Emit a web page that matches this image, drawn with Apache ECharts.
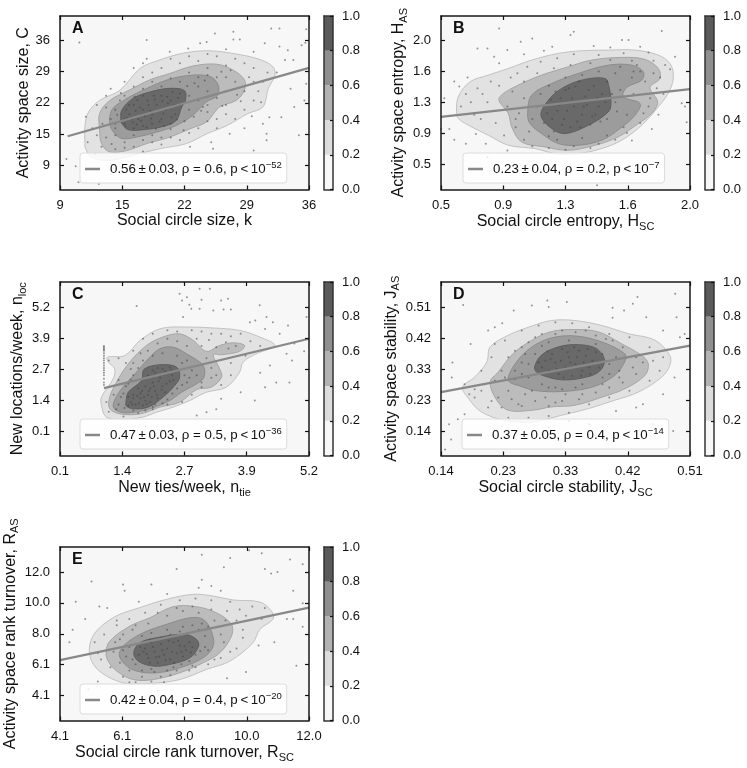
<!DOCTYPE html>
<html><head><meta charset="utf-8">
<style>html,body{margin:0;padding:0;background:#fff}#c{width:747px;height:768px}</style>
<script src="https://cdn.jsdelivr.net/npm/echarts@6/dist/echarts.min.js"></script></head>
<body><div id="c"></div>
<script>
const levelColors=['#f7f7f7','#dcdcdc','#b2b2b2','#8f8f8f','#5a5a5a'];
const contourColors=['#e2e2e2','#bcbcbc','#9c9c9c','#696969'];
const contourEdges=['#c2c2c2','#a6a6a6','#8c8c8c','#5e5e5e'];
const barLevels=[0.2,0.2,0.2,0.2,0.2];
const barTicks=[0,0.2,0.4,0.6,0.8,1.0];
const panelNames=['A','B','C','D','E'];
const xTicks=[[9,15.75,22.5,29.25,36],[0.5,0.875,1.25,1.625,2.0],[0.1,1.375,2.65,3.925,5.2],[0.14,0.2325,0.325,0.4175,0.51],[4.1,6.075,8.05,10.025,12.0]];
const tickLabels=[['9','15','22','29','36'],['0.5','0.9','1.3','1.6','2.0'],['0.1','1.4','2.7','3.9','5.2'],['0.14','0.23','0.33','0.42','0.51'],['4.1','6.1','8.0','10.0','12.0']];
const yRanges=[[3.82,41.18],[0.2,2.29],[-0.9,6.23],[0.067,0.585],[2.5,13.6]];
const xNameTexts=['Social circle size, k','Social circle entropy, H{s|SC}','New ties/week, n{s|tie}','Social circle stability, J{s|SC}','Social circle rank turnover, R{s|SC}'];
const yNameTexts=['Activity space size, C','Activity space entropy, H{s|AS}','New locations/week, n{s|loc}','Activity space stability, J{s|AS}','Activity space rank turnover, R{s|AS}'];
const fitLabels=[['0.56\u2009±\u20090.03, ρ = 0.6, p\u2009<\u200910','−52'],['0.23\u2009±\u20090.04, ρ = 0.2, p\u2009<\u200910','−7'],['0.47\u2009±\u20090.03, ρ = 0.5, p\u2009<\u200910','−36'],['0.37\u2009±\u20090.05, ρ = 0.4, p\u2009<\u200910','−14'],['0.42\u2009±\u20090.04, ρ = 0.4, p\u2009<\u200910','−20']];
const fitLineA=[[9.83,15.3],[36,30.0]];
const fitLineB=[[0.5,1.075],[2.0,1.409]];
const fitLineC=[[1.0,1.87],[5.2,3.90]];
const fitLineD=[[0.14,0.256],[0.51,0.395]];
const fitLineE=[[4.1,6.36],[12.0,9.72]];

const contourA=[
[[11.7,13.7],[11.7,17.3],[12.1,20.5],[13.3,23.0],[15.5,25.2],[17.7,29.9],[19.8,31.7],[22.2,33.1],[24.9,33.7],[27.8,33.1],[30.7,31.8],[32.1,30.2],[32.3,28.4],[31.6,25.6],[31.0,21.6],[29.4,20.2],[27.1,17.6],[24.9,15.8],[22.7,13.7],[19.8,12.6],[16.9,11.2],[14.4,10.1],[12.4,10.8],[11.7,13.0]],
[[13.3,16.6],[13.3,20.2],[14.4,23.0],[16.6,25.3],[18.7,27.4],[20.9,28.8],[23.4,30.4],[26.0,30.8],[27.8,29.5],[29.0,27.4],[29.0,25.2],[28.1,23.0],[26.3,21.6],[24.9,18.4],[23.1,16.9],[20.9,15.1],[18.4,13.7],[16.2,12.2],[14.4,11.9],[13.5,13.7]],
[[14.4,18.0],[14.6,20.9],[15.9,23.0],[18.0,25.2],[20.6,27.4],[23.1,28.4],[25.2,28.2],[26.1,26.6],[26.1,24.1],[24.9,22.7],[23.4,19.8],[21.6,17.6],[19.5,16.2],[17.3,15.1],[15.7,14.8],[14.8,16.2]],
[[15.6,18.7],[15.7,20.9],[16.9,23.4],[18.7,24.8],[20.9,25.6],[22.5,25.1],[22.6,23.0],[22.2,21.6],[21.6,18.7],[20.2,17.4],[18.0,16.7],[16.4,16.7],[15.7,18.0]]];
const contourB=[
[[0.594,1.115],[0.604,1.316],[0.675,1.497],[0.785,1.578],[0.906,1.658],[1.046,1.759],[1.207,1.839],[1.347,1.871],[1.508,1.879],[1.669,1.879],[1.809,1.819],[1.879,1.718],[1.900,1.578],[1.879,1.397],[1.809,1.196],[1.709,0.974],[1.588,0.794],[1.468,0.693],[1.327,0.633],[1.187,0.633],[1.066,0.693],[0.906,0.733],[0.785,0.854],[0.665,0.974],[0.604,1.055]],
[[0.849,1.276],[0.875,1.356],[0.986,1.477],[1.106,1.578],[1.267,1.678],[1.408,1.759],[1.588,1.791],[1.729,1.767],[1.809,1.658],[1.819,1.537],[1.759,1.429],[1.805,1.256],[1.769,1.115],[1.689,0.995],[1.568,0.834],[1.428,0.733],[1.267,0.673],[1.126,0.713],[0.986,0.773],[0.926,0.954],[0.906,1.115]],
[[1.022,1.115],[1.046,1.336],[1.167,1.477],[1.327,1.598],[1.508,1.698],[1.649,1.698],[1.719,1.618],[1.709,1.517],[1.618,1.429],[1.598,1.316],[1.699,1.236],[1.669,1.095],[1.578,0.934],[1.468,0.794],[1.327,0.733],[1.207,0.753],[1.106,0.874],[1.036,0.995]],
[[1.102,1.095],[1.147,1.276],[1.227,1.417],[1.347,1.517],[1.488,1.537],[1.512,1.437],[1.524,1.236],[1.508,1.135],[1.388,0.974],[1.247,0.874],[1.167,0.934]]];
const contourC=[
[[1.07,3.14],[1.43,3.21],[1.74,3.83],[2.15,4.31],[2.69,4.38],[3.24,4.34],[3.78,4.24],[4.19,3.97],[4.50,3.62],[4.12,3.28],[3.85,2.94],[3.78,2.53],[3.51,1.91],[3.10,1.70],[2.76,1.36],[2.42,1.09],[2.08,0.88],[1.80,0.68],[1.40,0.58],[1.05,0.68],[0.95,1.16],[0.95,1.50],[1.19,2.25],[1.22,2.66],[1.09,2.94]],
[[1.11,1.43],[1.22,1.98],[1.50,2.87],[1.87,3.62],[2.21,3.97],[2.55,4.10],[2.83,3.83],[3.10,3.38],[3.37,3.62],[3.65,3.73],[3.88,3.62],[3.78,3.38],[3.41,3.24],[3.24,3.24],[3.37,2.66],[3.41,2.32],[3.20,1.91],[2.90,1.81],[2.55,1.29],[2.15,1.09],[1.74,0.81],[1.33,0.81],[1.12,1.02]],
[[1.19,1.22],[1.36,1.84],[1.67,2.53],[1.91,3.08],[2.15,3.49],[2.42,3.55],[2.69,3.28],[3.03,2.80],[3.05,2.32],[2.90,2.05],[2.59,1.70],[2.35,1.36],[1.94,1.02],[1.46,0.85],[1.23,0.99]],
[[1.45,1.29],[1.50,1.70],[1.77,2.18],[1.82,2.64],[2.15,2.83],[2.49,2.73],[2.55,2.32],[2.45,1.98],[2.21,1.50],[1.91,1.09],[1.60,1.02],[1.46,1.13]]];
const contourD=[
[[0.172,0.271],[0.190,0.301],[0.208,0.346],[0.213,0.391],[0.240,0.426],[0.270,0.450],[0.304,0.470],[0.339,0.470],[0.379,0.455],[0.418,0.431],[0.458,0.411],[0.480,0.366],[0.480,0.336],[0.468,0.301],[0.433,0.256],[0.398,0.232],[0.359,0.207],[0.319,0.187],[0.275,0.167],[0.235,0.172],[0.200,0.197],[0.181,0.237]],
[[0.213,0.286],[0.225,0.316],[0.247,0.371],[0.275,0.411],[0.304,0.437],[0.339,0.443],[0.374,0.436],[0.408,0.401],[0.438,0.366],[0.448,0.341],[0.443,0.306],[0.413,0.266],[0.379,0.241],[0.339,0.217],[0.304,0.212],[0.275,0.202],[0.240,0.202],[0.223,0.232]],
[[0.240,0.301],[0.252,0.346],[0.275,0.391],[0.304,0.418],[0.339,0.424],[0.379,0.406],[0.413,0.371],[0.414,0.351],[0.398,0.306],[0.364,0.271],[0.319,0.258],[0.280,0.261],[0.255,0.276],[0.242,0.286]],
[[0.279,0.331],[0.289,0.366],[0.314,0.391],[0.344,0.398],[0.371,0.386],[0.383,0.351],[0.374,0.316],[0.349,0.298],[0.319,0.293],[0.294,0.304],[0.282,0.316]]];
const contourE=[
[[5.03,7.05],[5.21,8.11],[5.84,9.14],[6.63,9.72],[7.48,10.25],[8.32,10.57],[8.96,10.46],[9.59,10.21],[10.44,10.08],[10.81,9.50],[10.86,8.99],[10.44,8.33],[10.22,7.47],[9.49,6.30],[8.75,5.77],[7.90,5.12],[6.95,4.87],[6.21,4.87],[5.58,5.34],[5.16,6.09]],
[[5.56,6.83],[5.68,7.58],[6.32,8.54],[6.95,9.07],[7.69,9.78],[8.43,9.78],[9.06,9.39],[9.54,8.65],[9.54,7.90],[9.17,6.83],[8.64,6.19],[7.90,5.55],[7.06,5.12],[6.42,5.12],[5.90,5.66],[5.63,6.30]],
[[5.98,6.73],[6.16,7.37],[6.74,8.11],[7.48,8.65],[8.22,9.07],[8.64,8.97],[8.90,8.22],[8.96,7.26],[8.64,6.51],[7.90,5.87],[7.16,5.55],[6.53,5.66],[6.16,6.09]],
[[6.44,6.83],[6.63,7.47],[7.16,7.79],[8.06,8.01],[8.43,7.69],[8.50,7.26],[8.22,6.51],[7.58,6.09],[7.06,5.98],[6.58,6.30]]];

const pointsA=[[11.1,35.5],[9.7,10.4],[10.7,8.8],[11,5.4],[13.2,5],[18.4,36],[18.4,32],[20.9,33.5],[22.9,34.2],[24.2,35.3],[25.8,37.4],[27.8,37.8],[27.8,36.1],[28.5,36.1],[31.9,38.5],[32.8,38.5],[32.8,34.6],[33.7,33.8],[33.4,31.7],[34.3,31.7],[35.2,34.9],[35.6,35.4],[35.7,38.3],[31.2,35.3],[24.9,35.6],[35.5,23],[34.4,21.6],[33,19.4],[31.7,19.4],[34.9,15.5],[31.4,15.8],[31.4,14.4],[27.4,15.8],[25.4,14],[25.6,12.6],[23.1,13],[35.7,26.6],[30,12.2],[31,18],[29,17],[27,34],[30,33.5],[32.5,29],[34,25.5],
[12,14],[12.5,17],[11.8,19.5],[13,22],[14,24],[14.5,25.5],[16,27],[15.5,23],[16,19],[15,17],[14,15],[13.5,13],[12.8,11.5],[15,12.5],[16,14],[17,13],[18,12],[19,14],[20,13.5],[21,15],[22,14.5],[23,16],[24,17],[25,18.5],[26,19],[27,20],[28,19],[29,21],[30,23],[30.5,25],[31,27],[31.5,29],[30,30],[29,31],[28,32],[27,30.5],[26,32.5],[25,33],[24,31.5],[23,32.5],[22,31],[21,32],[20,30],[19,29],[18,28],[17,30],[18,31],
[16,18],[16.5,20],[17,22],[17.5,19],[18,17.5],[18,21],[18.5,23],[19,20],[19,18],[19.5,22],[20,24],[20,19],[20.5,21],[21,23],[21,18],[21.5,20],[22,22],[17,17],[16.5,22],[18,24],[17.2,20.8],[19.2,24],[20.3,17.5],[21.2,24.8],[17.8,18.6],[19.6,20.7],[16.3,19.2],[18.6,22],[20.7,22.4],[22,24.5],[23,21],[24,23],[25,25],[24,26],[23,24],[25,22],[26,23.5],[27,25],[28,27],[27,28],[26,28],[25,28.5],[24,28],[22,27],[20,26],[18,25.5],[16,24],[15,21],[14.5,19],[14,21.5],[15,15.5],[17,15.5],[19,15.5],[21,16.8],[22.5,18.5],[23.5,19.5],[25,20.5],[27,22],[29,25],[29.5,28],[27.5,29.5],[17.4,23.1],[18.9,19.1],[20.1,22.9],[16.9,18.3],[21.8,23.6],[19.4,16.9],[15.2,19.9],[23.6,26.7],[24.7,27.3],[22.8,26.1],
[16.2,21],[16.8,19],[17.3,17.8],[17.7,21.5],[18.2,19.6],[18.4,17.2],[18.8,20.8],[19.3,23.2],[19.8,18.4],[20.2,20.2],[20.6,23.8],[21.1,19.4],[21.4,22],[21.7,18.9],[17.1,23.8],[16.1,17.4],[15,18],[15.6,24.6],[17,26],[19,27],[21,27.8],[23,29],[25,30],[26.5,29.2],[28.2,24.2],[24.3,20.8],[22.4,16.6],[20,15],[18,14.5],[16,12.8],[14.6,13.6],[13.6,18],[13,15.5],[24.5,21.6],[26.6,21.8],[28.6,22.8],[30,27],[30.8,22.6],[29.8,19.6],[26,17]];
const pointsB=[[0.5,0.93],[0.55,0.93],[0.58,1.5],[0.61,1.44],[0.72,1.9],[0.78,1.9],[0.85,2.14],[0.9,1.88],[0.98,1.98],[1.05,2.02],[1.17,1.92],[1.3,2.1],[1.28,2.06],[1.59,2.0],[1.63,2.0],[1.83,2.11],[1.7,1.92],[1.91,1.8],[1.95,1.24],[1.97,1.2],[1.98,1.01],[1.44,0.25],[0.58,0.8],[0.65,0.75],[0.71,0.87],[0.77,0.75],[0.78,0.59],[0.9,0.67],[1.65,0.79],[1.77,0.93],[1.81,1.1],[0.66,1.55],[0.85,1.72],[1.0,1.83],[1.12,1.87],[1.42,1.93],[1.52,1.91],[1.75,1.85],[1.88,1.65],[0.52,1.3],[0.82,1.8],
[0.62,1.2],[0.65,1.35],[0.7,1.1],[0.72,1.42],[0.78,1.25],[0.8,1.5],[0.83,1.0],[0.85,1.45],[0.88,0.85],[0.9,1.2],[0.92,1.55],[0.95,0.95],[0.96,1.6],[1.0,0.8],[1.02,1.68],[1.05,0.72],[1.1,1.74],[1.15,0.7],[1.2,1.78],[1.25,0.68],[1.3,1.83],[1.4,0.7],[1.45,1.82],[1.55,0.8],[1.6,1.84],[1.65,1.75],[1.7,1.0],[1.75,1.2],[1.78,1.75],[1.82,1.55],[1.84,1.35],[1.85,1.7],
[1.08,1.2],[1.1,1.35],[1.12,1.0],[1.15,1.45],[1.18,0.9],[1.2,1.15],[1.22,1.3],[1.24,1.05],[1.27,1.42],[1.28,0.95],[1.3,1.2],[1.33,1.5],[1.35,1.1],[1.37,1.32],[1.4,0.98],[1.42,1.45],[1.45,1.2],[1.47,1.35],[1.5,1.05],[1.5,1.5],[1.26,1.15],[1.38,1.22],[1.16,1.28],[1.43,1.1],[1.32,1.02],[1.55,1.25],[1.58,1.4],[1.62,1.1],[1.65,1.55],[1.7,1.62],[1.55,1.6],[1.45,1.62],[1.35,1.58],[1.25,1.55],[1.6,0.95],[1.5,0.85],[1.35,0.82],[1.2,0.8],[1.05,1.05],[1.0,1.3],[1.73,1.5],[1.66,1.35],[1.58,1.68],[1.68,1.7],
[1.14,1.12],[1.19,1.38],[1.23,0.98],[1.29,1.3],[1.31,1.44],[1.34,0.95],[1.36,1.2],[1.39,1.4],[1.41,1.08],[1.44,1.3],[1.46,1.02],[1.49,1.25],[1.21,1.22],[1.17,1.05],[1.25,1.4],[0.97,1.12],[0.93,1.38],[1.0,1.5],[1.08,1.6],[1.18,1.66],[1.28,1.7],[1.4,1.72],[1.52,1.76],[1.66,1.62],[1.76,1.3],[1.72,1.12],[1.62,0.88],[1.45,0.75],[1.3,0.72],[1.15,0.84],[1.03,0.9],[0.95,1.05],[0.75,1.35],[0.68,1.25],[0.74,1.05],[0.82,1.15],[1.78,1.6],[1.8,1.42],[1.56,1.14],[1.53,1.35]];
const pointsC=[[2.6,5.47],[2.7,5.6],[2.96,5.95],[3.17,5.95],[3.4,5.47],[3.54,5.54],[2.62,4.79],[2.79,5.13],[2.96,5.13],[1.67,5.24],[3.24,5.06],[3.45,5.1],[4.19,5.27],[4.33,4.79],[4.46,4.58],[3.99,4.58],[4.1,4.65],[4.77,4.44],[5.15,4.79],[4.74,3.28],[5.1,3.38],[4.8,2.1],[4.53,2.1],[4.09,1.36],[3.4,1.43],[2.9,0.74],[3.1,0.88],[3.3,1.0],[2.75,5.3],[2.55,5.75],[3.0,5.5],[3.6,5.1],[4.3,4.3],[4.6,4.1],[4.9,3.7],[4.85,3.0],[4.4,2.8],[4.2,2.5],[4.3,1.9],[3.8,1.7],[1.6,0.1],[1.85,0.3],
[1.0,3.6],[1.0,3.55],[1.0,3.5],[1.0,3.45],[1.0,3.4],[1.0,3.3],[1.0,3.2],[1.0,3.1],[1.0,3.0],[1.0,2.9],[1.0,2.8],[1.0,2.7],[1.0,2.6],[1.0,2.5],[1.0,2.4],[1.0,2.25],[1.0,2.1],[1.0,2.0],
[1.1,3.0],[1.3,3.1],[1.45,2.9],[1.6,3.4],[1.8,3.9],[2.0,4.1],[2.3,4.25],[2.5,4.2],[2.8,4.25],[3.0,4.2],[3.2,4.1],[3.4,4.1],[3.6,4.0],[3.8,4.1],[4.0,3.8],[4.2,3.6],[3.9,3.2],[3.6,2.9],[3.6,2.4],[3.4,2.0],[3.0,1.9],[2.8,1.6],[2.6,1.3],[2.3,1.2],[2.0,1.0],[1.7,0.85],[1.4,0.7],[1.1,0.9],[1.05,1.3],[1.2,1.6],[1.3,2.2],
[1.55,1.3],[1.6,1.6],[1.65,1.2],[1.7,1.85],[1.75,1.45],[1.8,1.15],[1.85,1.95],[1.9,1.6],[1.95,1.3],[2.0,2.1],[2.05,1.75],[2.1,1.45],[2.15,2.3],[2.2,1.95],[2.25,1.7],[2.3,2.5],[2.35,2.15],[2.4,2.4],[2.0,2.6],[1.9,2.4],[2.1,2.7],[2.25,2.55],[1.75,1.65],[1.6,1.45],[1.85,1.35],[1.95,1.85],[2.05,1.2],
[1.3,1.2],[1.35,1.5],[1.45,1.95],[1.55,2.2],[1.7,2.7],[1.8,3.0],[2.0,3.2],[2.2,3.3],[2.5,3.2],[2.7,3.0],[2.8,2.6],[2.9,2.4],[2.7,2.1],[2.5,1.85],[2.3,1.4],[2.0,1.1],[1.6,0.95],[1.25,1.0],[2.1,3.7],[2.3,3.9],[2.5,3.8],[2.7,3.6],[1.9,3.4],[1.6,2.9],[3.1,3.1],[3.2,2.7],[3.2,2.3],[3.55,3.5],[3.7,3.6],[3.3,3.55],
[1.5,1.5],[1.58,1.2],[1.68,1.55],[1.72,1.25],[1.78,1.75],[1.82,1.5],[1.88,1.22],[1.92,1.75],[1.98,1.5],[2.02,1.95],[2.08,1.6],[2.12,2.15],[2.18,1.8],[2.28,2.05],[2.38,2.6],[2.42,2.2],[1.98,2.35],[2.05,2.5],[2.2,2.65],[2.35,2.72],[1.5,1.15],[1.42,1.05],[1.4,1.65],[1.5,2.05],[1.6,2.4],[2.6,2.9],[2.65,2.4],[2.75,2.3],[2.6,2.0],[2.4,1.65],[2.2,1.25],[1.85,0.95],[3.0,3.6],[2.9,3.9],[3.15,3.85],[3.5,3.75],[1.75,3.3],[1.55,2.65],[3.0,2.1],[3.3,2.4]];
const pointsD=[[0.173,0.516],[0.152,0.16],[0.146,0.085],[0.155,0.115],[0.156,0.3],[0.157,0.345],[0.184,0.4],[0.231,0.462],[0.248,0.5],[0.298,0.53],[0.3,0.51],[0.327,0.525],[0.432,0.54],[0.425,0.52],[0.395,0.508],[0.412,0.5],[0.395,0.478],[0.445,0.48],[0.488,0.55],[0.49,0.48],[0.502,0.43],[0.495,0.42],[0.47,0.44],[0.165,0.175],[0.175,0.19],[0.182,0.25],[0.21,0.44],[0.22,0.45],[0.3,0.15],[0.44,0.22],[0.43,0.21],[0.47,0.25],[0.487,0.3],[0.485,0.14],[0.455,0.16],[0.4,0.2],[0.36,0.16],[0.33,0.17],[0.275,0.515],
[0.175,0.28],[0.19,0.265],[0.2,0.32],[0.215,0.36],[0.22,0.4],[0.235,0.41],[0.26,0.44],[0.285,0.455],[0.31,0.465],[0.335,0.462],[0.36,0.45],[0.39,0.43],[0.42,0.42],[0.45,0.39],[0.47,0.36],[0.465,0.32],[0.45,0.29],[0.42,0.26],[0.39,0.24],[0.36,0.22],[0.33,0.195],[0.3,0.185],[0.27,0.18],[0.24,0.18],[0.21,0.21],[0.19,0.24],
[0.225,0.24],[0.23,0.21],[0.24,0.26],[0.255,0.22],[0.265,0.25],[0.28,0.23],[0.295,0.24],[0.31,0.225],[0.325,0.25],[0.345,0.235],[0.37,0.255],[0.39,0.27],[0.41,0.285],[0.43,0.31],[0.44,0.345],[0.43,0.36],[0.41,0.39],[0.395,0.41],[0.37,0.425],[0.34,0.435],[0.31,0.43],[0.28,0.42],[0.26,0.39],[0.24,0.36],[0.23,0.32],[0.22,0.29],
[0.25,0.32],[0.26,0.345],[0.27,0.3],[0.28,0.37],[0.29,0.28],[0.3,0.405],[0.31,0.27],[0.33,0.41],[0.35,0.28],[0.37,0.4],[0.38,0.3],[0.39,0.34],[0.4,0.36],[0.405,0.32],
[0.29,0.33],[0.295,0.35],[0.3,0.32],[0.305,0.37],[0.31,0.345],[0.315,0.31],[0.32,0.385],[0.325,0.33],[0.33,0.36],[0.335,0.305],[0.34,0.34],[0.345,0.38],[0.35,0.32],[0.355,0.365],[0.36,0.33],[0.365,0.35],[0.37,0.375],[0.375,0.33],[0.318,0.35],[0.328,0.375],[0.342,0.36],[0.303,0.355],[0.352,0.345],
[0.285,0.345],[0.298,0.378],[0.312,0.325],[0.322,0.3],[0.332,0.345],[0.338,0.39],[0.348,0.305],[0.358,0.385],[0.362,0.31],[0.372,0.345],[0.27,0.34],[0.26,0.31],[0.25,0.295],[0.265,0.37],[0.29,0.395],[0.34,0.27],[0.32,0.265],[0.3,0.27],[0.38,0.37],[0.39,0.31],[0.245,0.235],[0.26,0.215],[0.275,0.26],[0.3,0.215],[0.32,0.23],[0.35,0.25],[0.38,0.28],[0.405,0.3],[0.425,0.33],[0.385,0.415],[0.355,0.44],[0.32,0.44],[0.29,0.43],[0.27,0.405],[0.25,0.38],[0.235,0.3],[0.205,0.28],[0.2,0.26],[0.215,0.23],[0.455,0.35]];
const pointsE=[[4.6,10.1],[4.5,8.3],[4.4,7.5],[4.9,9.0],[5.1,11.4],[5.35,9.8],[5.6,9.7],[6.1,11.2],[6.15,10.8],[6.6,10.1],[7.0,11.2],[7.5,10.6],[7.8,12.2],[8.5,11.0],[8.6,11.5],[8.6,13.1],[9.3,12.3],[9.5,12.9],[10.1,13.4],[10.5,13.2],[11.4,12.8],[10.6,12.2],[10.8,11.9],[11.0,12.0],[11.5,10.8],[11.8,12.5],[11.8,10.0],[11.3,9.0],[11.5,9.0],[10.9,7.5],[11.8,8.5],[10.4,7.3],[11.6,6.0],[10.0,5.6],[9.4,5.2],[7.2,4.4],[5.3,5.0],[5.0,4.5],[8.9,11.1],[9.2,10.8],[5.9,8.9],
[5.2,7.5],[5.3,6.8],[5.5,8.0],[5.7,5.9],[5.9,8.6],[6.1,5.3],[6.3,9.0],[6.5,4.95],[6.8,9.4],[7.0,5.0],[7.3,9.9],[7.6,5.4],[7.9,10.2],[8.2,5.7],[8.4,10.3],[8.8,6.1],[8.9,10.2],[9.2,6.5],[9.5,10.1],[9.7,7.1],[9.9,8.3],[10.0,9.2],[10.2,9.8],[10.5,9.0],[10.6,9.7],[9.8,9.6],
[5.8,6.9],[5.85,7.5],[6.0,6.2],[6.1,8.0],[6.3,5.7],[6.4,8.3],[6.7,5.3],[6.9,8.7],[7.3,5.3],[7.5,9.2],[7.8,5.7],[8.0,9.5],[8.3,6.0],[8.5,9.4],[8.8,7.0],[9.0,8.9],[9.2,8.0],[9.3,7.5],[9.1,8.5],[9.35,8.9],
[6.2,6.6],[6.3,7.2],[6.5,6.1],[6.7,7.9],[7.0,5.8],[7.0,8.1],[7.5,8.3],[7.7,5.9],[8.0,8.5],[8.2,6.3],[8.5,8.3],[8.7,7.2],[8.7,7.9],
[6.6,6.7],[6.8,7.1],[6.9,6.5],[7.1,6.9],[7.2,6.2],[7.3,7.4],[7.4,6.7],[7.5,7.1],[7.6,6.4],[7.7,7.5],[7.8,6.8],[7.9,7.3],[8.0,6.6],[8.1,7.0],[8.2,7.5],[8.3,7.2],[7.0,7.5],[6.75,6.9],[7.25,6.6],[7.65,6.9],[7.95,6.9],[6.95,6.2],[7.45,6.35],
[6.65,7.2],[6.85,6.75],[7.05,7.2],[7.15,6.55],[7.35,7.0],[7.55,7.6],[7.72,6.2],[7.85,7.6],[8.05,7.25],[8.25,6.85],[6.95,7.65],[7.3,7.8],[7.6,8.0],[7.9,8.2],[8.3,8.6],[8.6,8.7],[8.8,8.5],[8.4,6.7],[8.55,6.95],[7.95,6.1],[7.5,5.7],[7.1,5.6],[6.7,5.7],[6.4,6.4],[6.1,7.0],[6.0,7.7],[6.5,8.6],[7.2,9.4],[7.8,9.7],[8.3,9.8],[8.9,9.6],[9.4,9.5],[9.7,8.9],[9.9,7.8],[9.5,6.9],[9.0,6.4],[8.4,5.9],[7.4,4.95],[6.3,4.95],[5.4,6.4]];

const contours=[contourA,contourB,contourC,contourD,contourE];
const pointSets=[pointsA,pointsB,pointsC,pointsD,pointsE];
const fitLines=[fitLineA,fitLineB,fitLineC,fitLineD,fitLineE];
const font='"Liberation Sans", Arial, sans-serif';
const boxes=[{l:60,t:16},{l:441,t:16},{l:60,t:282},{l:441,t:282},{l:60,t:547}];
const legendLefts=[80,463,80,462,80];
const W=249,H=173.5;
const grids=[],xAxes=[],yAxes=[],series=[],legends=[],titles=[];
const fmtTick=i=>v=>{let k=xTicks[i].indexOf(v);return k<0?'':tickLabels[i][k];};
const frame={show:true,lineStyle:{color:'#1a1a1a',width:1.5},onZero:false};
const cbLine={show:true,lineStyle:{color:'#333',width:1.5},onZero:false};
const tk={show:true,inside:true,length:4,lineStyle:{color:'#111',width:1.2}};
const rich={s:{fontSize:11,verticalAlign:'bottom',padding:[10,0,0,0],fontFamily:font,color:'#111'}};
const AZ=3;
boxes.forEach((b,i)=>{
  const g=2*i,ax=4*i;
  grids.push({left:b.l,top:b.t,width:W,height:H,show:true,backgroundColor:levelColors[0],borderWidth:0});
  grids.push({left:b.l+264,top:b.t,width:9,height:H,show:true,backgroundColor:'#fff',borderWidth:0});
  const xt=xTicks[i];
  const [y0,y1]=yRanges[i];
  xAxes.push({type:'value',z:AZ,gridIndex:g,min:xt[0],max:xt[4],position:'bottom',axisLine:frame,splitLine:{show:false},
    axisTick:{...tk,customValues:xt},
    axisLabel:{customValues:xt,formatter:fmtTick(i),color:'#111',fontSize:13,fontFamily:font,margin:9,hideOverlap:false,showMinLabel:true,showMaxLabel:true},
    name:xNameTexts[i],nameLocation:'middle',nameGap:22,nameTextStyle:{color:'#111',fontSize:16,fontFamily:font,rich}});
  xAxes.push({type:'value',z:AZ,gridIndex:g,min:xt[0],max:xt[4],position:'top',axisLine:frame,splitLine:{show:false},axisTick:{...tk,customValues:xt},axisLabel:{show:false}});
  xAxes.push({type:'category',z:AZ,gridIndex:g+1,data:[''],position:'bottom',axisLine:cbLine,axisTick:{show:false},axisLabel:{show:false}});
  xAxes.push({type:'category',z:AZ,gridIndex:g+1,data:[''],position:'top',axisLine:cbLine,axisTick:{show:false},axisLabel:{show:false}});
  yAxes.push({type:'value',z:AZ,gridIndex:g,min:y0,max:y1,position:'left',axisLine:frame,splitLine:{show:false},
    axisTick:{...tk,customValues:xt},
    axisLabel:{customValues:xt,formatter:fmtTick(i),color:'#111',fontSize:13,fontFamily:font,margin:10,hideOverlap:false},
    name:yNameTexts[i],nameLocation:'middle',nameRotate:90,nameGap:[25,27,28,36,28][i],nameTextStyle:{color:'#111',fontSize:16,fontFamily:font,rich}});
  yAxes.push({type:'value',z:AZ,gridIndex:g,min:y0,max:y1,position:'right',axisLine:frame,splitLine:{show:false},axisTick:{...tk,customValues:xt},axisLabel:{show:false}});
  yAxes.push({type:'value',z:AZ,gridIndex:g+1,min:0,max:1,position:'right',axisLine:cbLine,splitLine:{show:false},
    axisTick:{show:true,inside:true,length:3,lineStyle:{color:'#111',width:1.2},customValues:barTicks},
    axisLabel:{customValues:barTicks,formatter:v=>v.toFixed(1),color:'#111',fontSize:13,fontFamily:font,margin:9}});
  yAxes.push({type:'value',z:AZ,gridIndex:g+1,min:0,max:1,position:'left',axisLine:cbLine,splitLine:{show:false},axisTick:{show:false},axisLabel:{show:false}});
  const polys=contours[i];
  series.push({type:'custom',xAxisIndex:ax,yAxisIndex:ax,z:1,silent:true,data:polys.map((p,k)=>k),encode:{x:-1,y:-1},
    renderItem:(params,api)=>{
      const k=params.dataIndex;
      return {type:'polygon',shape:{points:polys[k].map(p=>api.coord(p)),smooth:0.35},
        style:{fill:contourColors[k],stroke:contourEdges[k],lineWidth:1}};
    }});
  series.push({type:'scatter',xAxisIndex:ax,yAxisIndex:ax,z:2,silent:true,symbolSize:2,data:pointSets[i],itemStyle:{color:'#444',opacity:0.55}});
  const nm='fit'+panelNames[i];
  series.push({type:'line',name:nm,xAxisIndex:ax,yAxisIndex:ax,z:2.5,silent:true,symbol:'none',data:fitLines[i],lineStyle:{color:'#888',width:2.2},itemStyle:{color:'#888'}});
  levelColors.forEach((c,k)=>series.push({type:'bar',xAxisIndex:ax+2,yAxisIndex:ax+2,stack:'cb'+i,barWidth:'100%',silent:true,z:1,data:[barLevels[k]],itemStyle:{color:c}}));
  legends.push({data:[{name:nm,icon:'rect'}],left:legendLefts[i],top:b.t+137,selectedMode:false,backgroundColor:'rgba(255,255,255,0.8)',borderColor:'#dcdcdc',borderWidth:1,borderRadius:3,padding:[7.5,5,7.5,5],itemWidth:15,itemHeight:2.5,itemGap:0,z:4,
    formatter:()=>`{t|${fitLabels[i][0]}}{e|${fitLabels[i][1]}}`,
    textStyle:{color:'#111',fontFamily:font,fontSize:13.3,rich:{t:{fontSize:13.3,fontFamily:font,color:'#111',padding:[0,0,0,5]},e:{fontSize:9.5,fontFamily:font,color:'#111',verticalAlign:'top',padding:[0,0,7,0]}}}});
  titles.push({text:panelNames[i],left:b.l+12,top:b.t+5,padding:0,textStyle:{fontSize:16,fontWeight:'bold',color:'#111',fontFamily:font}});
});
const chart=echarts.init(document.getElementById('c'),null,{renderer:'canvas'});
chart.setOption({animation:false,backgroundColor:'#fff',grid:grids,xAxis:xAxes,yAxis:yAxes,series,legend:legends,title:titles,tooltip:{show:false}});
</script></body></html>
